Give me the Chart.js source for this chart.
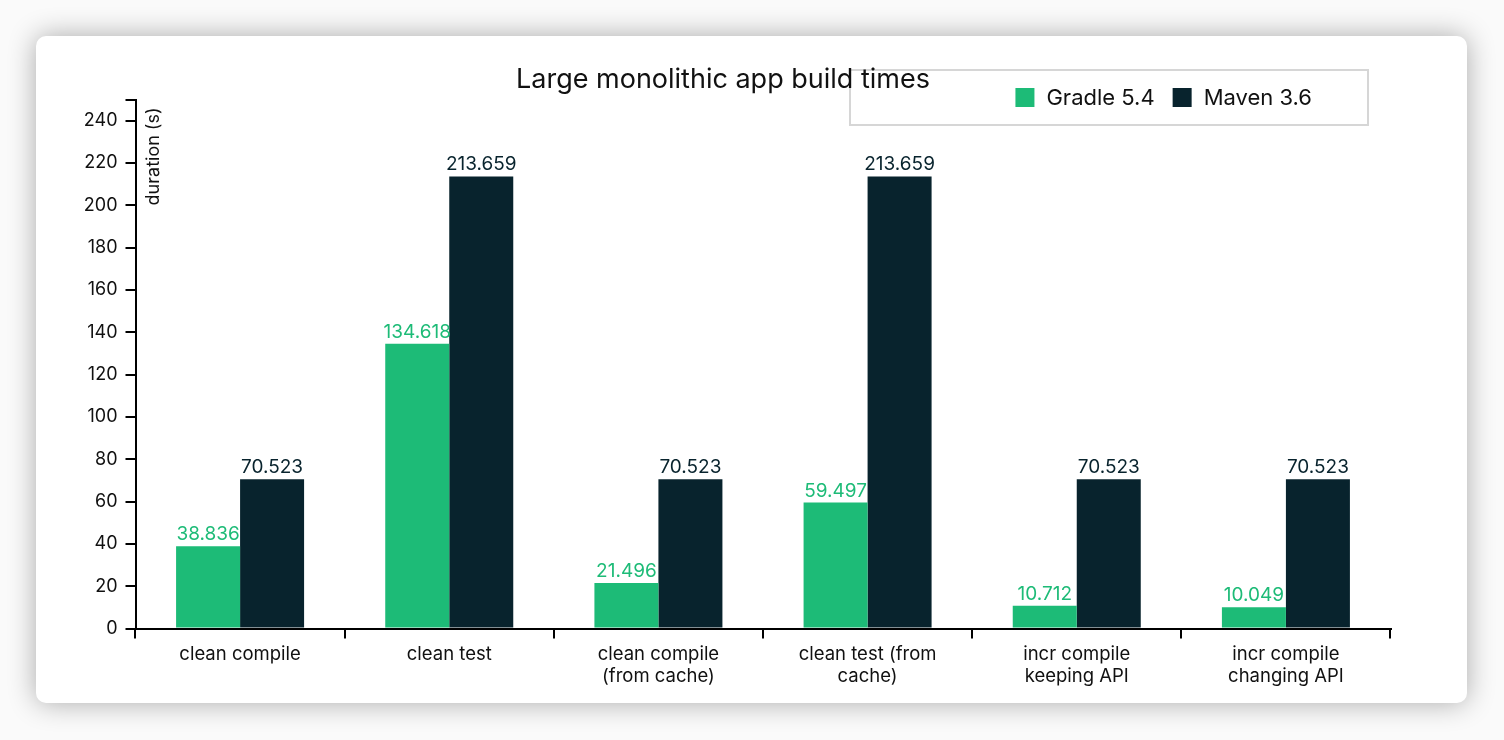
<!DOCTYPE html>
<html>
<head>
<meta charset="utf-8">
<script src="https://cdn.jsdelivr.net/npm/chart.js@4.4.1/dist/chart.umd.min.js"></script>
<style>
  html, body { margin: 0; padding: 0; background: #fafafa; width: 1504px; height: 740px; overflow: hidden; }
  #card { position: absolute; left: 36px; top: 36px; width: 1431px; height: 667px; background: #fff; border-radius: 10px; box-shadow: 0 0 28px rgba(0,0,0,0.32); }
  #c { position: absolute; left: 0; top: 0; }
</style>
</head>
<body>
<div id="card"></div>
<canvas id="c" width="1504" height="740"></canvas>
<script>
const chartTitle = 'Large monolithic app build times';
const yAxisTitle = 'duration (s)';
const categories = [
  ['clean compile'],
  ['clean test'],
  ['clean compile', '(from cache)'],
  ['clean test (from', 'cache)'],
  ['incr compile', 'keeping API'],
  ['incr compile', 'changing API']
];
const seriesNames = ['Gradle 5.4', 'Maven 3.6'];
const gradle = [38.836, 134.618, 21.496, 59.497, 10.712, 10.049];
const maven = [70.523, 213.659, 70.523, 213.659, 70.523, 70.523];
const yTicks = [0, 20, 40, 60, 80, 100, 120, 140, 160, 180, 200, 220, 240];
const yMax = 250;
const colors = ['#1dbb77', '#08232d'];

const FONT = 'Inter, "Liberation Sans", Arial, sans-serif';

const overlay = {
  id: 'overlay',
  afterDraw(chart) {
    const ctx = chart.ctx;
    const area = chart.chartArea;
    ctx.save();
    // value labels
    chart.data.datasets.forEach((ds, di) => {
      const meta = chart.getDatasetMeta(di);
      ctx.fillStyle = ds.backgroundColor;
      ctx.font = '19px ' + FONT;
      ctx.textAlign = 'center';
      ctx.textBaseline = 'alphabetic';
      meta.data.forEach((bar, i) => {
        ctx.fillText(String(ds.data[i]), bar.x, bar.y - 6);
      });
    });
    // y axis title
    ctx.save();
    ctx.translate(area.left + 18, area.top + 8);
    ctx.rotate(-Math.PI / 2);
    ctx.fillStyle = '#111';
    ctx.font = '18px ' + FONT;
    ctx.textAlign = 'right';
    ctx.textBaseline = 'middle';
    ctx.fillText(yAxisTitle, 0, 0);
    ctx.restore();
    // legend box
    ctx.strokeStyle = '#d6d6d6';
    ctx.lineWidth = 2;
    ctx.strokeRect(850, 70, 518, 55);
    // title
    ctx.fillStyle = '#111';
    ctx.font = '27px ' + FONT;
    ctx.textAlign = 'center';
    ctx.textBaseline = 'alphabetic';
    ctx.fillText(chartTitle, 723, 88);
    // legend items (right aligned)
    ctx.font = '22px ' + FONT;
    ctx.textBaseline = 'middle';
    ctx.textAlign = 'left';
    let x = 1312;
    const items = chart.data.datasets.map(d => ({label: d.label, color: d.backgroundColor}));
    for (let k = items.length - 1; k >= 0; k--) {
      const w = ctx.measureText(items[k].label).width;
      const tx = x - w;
      ctx.fillStyle = '#111';
      ctx.fillText(items[k].label, tx, 98);
      ctx.fillStyle = items[k].color;
      ctx.fillRect(tx - 31, 88, 19, 19);
      x = tx - 31 - 18;
    }
    ctx.restore();
  }
};

new Chart(document.getElementById('c'), {
  type: 'bar',
  data: {
    labels: categories,
    datasets: [
      { label: seriesNames[0], data: gradle, backgroundColor: colors[0], categoryPercentage: 0.612, barPercentage: 1 },
      { label: seriesNames[1], data: maven, backgroundColor: colors[1], categoryPercentage: 0.612, barPercentage: 1 }
    ]
  },
  options: {
    responsive: false,
    animation: false,
    devicePixelRatio: 1,
    layout: { padding: { top: 99.5, right: 113.5, left: 0, bottom: 0 } },
    plugins: { legend: { display: false }, title: { display: false }, tooltip: { enabled: false } },
    scales: {
      x: {
        offset: true,
        afterFit(scale) { scale.height = 111.5; },
        grid: { display: true, offset: true, drawOnChartArea: false, drawTicks: true, tickLength: 10, color: '#000', lineWidth: 2 },
        border: { display: true, color: '#000', width: 2 },
        ticks: { color: '#111', font: { family: FONT, size: 18.5, lineHeight: 1.2 }, padding: 5, maxRotation: 0, autoSkip: false }
      },
      y: {
        min: 0,
        max: yMax,
        afterFit(scale) { scale.width = 135.5; },
        afterBuildTicks(scale) { scale.ticks = yTicks.concat([yMax]).map(v => ({ value: v })); },
        grid: { display: true, drawOnChartArea: false, drawTicks: true, tickLength: 10, color: '#000', lineWidth: 2 },
        border: { display: true, color: '#000', width: 2 },
        ticks: { color: '#111', font: { family: FONT, size: 18 }, padding: 8, callback: (v) => (v === yMax ? '' : v) }
      }
    }
  },
  plugins: [overlay]
});
</script>
</body>
</html>
